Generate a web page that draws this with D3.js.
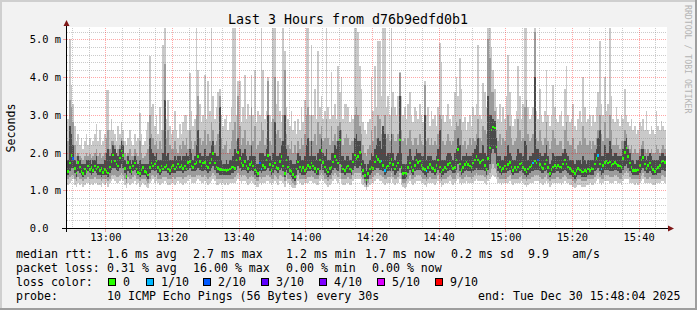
<!DOCTYPE html>
<html>
<head>
<meta charset="utf-8">
<script src="https://cdn.jsdelivr.net/npm/d3@7"></script>
<style>
  body { margin: 0; background: #f2f2f2; }
  svg text { font-family: "DejaVu Sans Mono", monospace; white-space: pre; }
</style>
</head>
<body>
<div id="chart"></div>
<script>
// 10 pings every 30 s, 360 steps: smoke bands (ms) + median + loss
const startTime = new Date(2025, 11, 30, 12, 48, 0);
const stepSeconds = 30;

const pingMax = [
  2.4,2.9,5.0,3.8,3.3,2.7,2.3,2.5,2.2,2.4,2.1,2.3,2.5,2.2,2.4,2.2,2.3,2.5,2.75,2.3,
  2.6,2.2,2.3,2.5,3.65,3.65,2.6,2.9,2.6,2.5,2.3,2.7,2.5,2.8,2.6,2.3,2.2,2.4,2.6,2.3,
  2.2,2.5,2.3,2.4,3.05,2.5,2.2,2.3,2.6,2.8,4.55,3.2,3.3,2.7,3.0,2.5,3.2,2.6,4.85,5.5,
  2.9,3.4,2.7,2.5,2.6,3.1,2.6,2.4,2.75,2.5,2.8,3.0,3.0,2.6,4.1,3.1,2.7,2.9,5.5,4.2,
  3.3,2.8,3.0,4.05,2.9,3.9,3.1,5.5,3.5,2.9,3.2,3.6,3.7,3.0,2.7,2.9,3.0,2.6,2.8,3.2,
  5.5,5.5,3.0,3.9,3.9,2.8,3.2,4.05,2.9,3.3,3.0,4.05,3.0,4.2,2.8,3.1,3.0,5.5,4.2,2.9,
  3.1,4.0,3.0,2.8,5.5,5.5,3.3,3.9,3.1,2.8,5.5,4.7,3.2,2.9,2.7,3.1,2.6,2.85,2.5,2.9,
  2.6,3.2,2.8,3.4,5.5,5.5,3.0,4.85,3.0,3.7,2.9,4.7,3.2,3.5,2.9,3.1,5.5,3.2,2.9,4.15,
  3.0,3.3,2.9,4.3,3.6,4.0,2.9,3.3,3.3,3.2,2.8,3.0,2.9,5.5,5.5,5.2,4.3,3.7,2.8,2.6,
  2.5,2.8,2.9,4.0,3.1,4.3,3.2,4.95,4.95,3.5,5.5,5.5,3.2,3.5,3.0,5.5,3.6,3.2,3.0,3.5,
  4.15,3.5,3.0,3.2,2.9,3.3,3.6,3.0,2.8,3.2,3.1,2.9,3.3,3.0,2.8,3.9,3.0,3.2,2.7,3.1,
  2.9,3.0,2.7,3.2,4.9,4.4,3.0,2.8,3.0,3.3,2.9,2.7,3.0,3.6,4.0,3.5,4.5,3.7,2.8,2.95,
  2.6,2.8,3.0,2.7,3.2,3.0,3.3,4.85,3.0,2.9,3.85,3.6,3.2,5.5,5.5,4.8,4.2,3.7,3.2,2.9,
  3.3,2.8,3.2,2.9,3.5,4.6,3.6,3.0,2.7,2.9,3.1,4.3,3.5,2.9,3.3,5.5,5.5,3.2,2.9,3.0,
  3.2,5.3,3.1,2.9,3.7,3.0,2.8,3.1,4.2,3.0,2.7,3.0,3.8,3.2,2.9,2.8,3.0,3.1,2.7,3.7,
  4.3,3.0,2.8,2.9,3.3,2.7,2.6,2.9,3.1,2.8,4.0,3.2,2.8,2.9,3.0,2.7,3.0,2.8,3.2,3.6,
  4.95,3.3,3.0,4.0,3.1,3.3,5.5,3.5,2.9,2.8,3.2,2.9,2.7,3.0,2.9,3.7,3.0,2.8,2.7,2.9,
  2.6,2.7,2.5,2.6,2.8,2.7,2.9,2.6,3.1,2.6,2.5,2.7,2.6,2.5,3.1,2.7,2.6,2.85,2.7,2.6
];

const pingHigh = [
  2.0,2.3,3.4,3.2,2.8,2.2,1.9,2.0,1.9,1.85,1.8,1.9,2.0,1.9,1.95,1.85,1.9,2.0,2.1,1.9,
  2.0,1.85,1.9,2.0,2.4,2.6,2.1,2.3,2.3,2.2,2.0,2.1,2.2,2.4,2.3,2.0,1.9,2.0,2.1,1.9,
  1.9,2.1,2.0,1.9,2.3,2.0,1.85,1.9,2.0,2.1,3.0,2.5,2.4,2.2,2.3,2.1,2.3,2.1,2.6,4.35,
  2.4,2.6,2.2,2.1,2.1,2.3,2.1,2.0,2.2,2.1,2.3,2.2,2.4,2.1,2.6,2.3,2.1,2.3,3.0,3.5,
  2.4,2.2,2.3,2.6,2.2,2.5,2.3,2.8,2.6,2.2,2.3,2.5,3.5,2.4,2.1,2.2,2.3,2.0,2.1,2.3,
  2.6,2.8,2.3,3.5,2.7,2.2,2.4,2.6,2.2,2.3,2.2,3.2,2.3,2.7,2.1,2.2,2.3,2.8,2.6,2.2,
  2.4,3.9,2.3,2.2,2.9,4.0,2.5,2.6,2.4,2.3,3.0,4.2,2.5,2.2,2.1,2.3,2.0,2.2,2.0,2.3,
  2.1,2.4,2.2,2.5,3.0,3.2,2.3,3.0,2.3,2.5,2.2,2.8,2.5,2.7,2.3,2.4,2.9,2.4,2.2,2.7,
  2.3,2.5,2.3,2.7,2.8,2.6,2.2,2.4,2.5,2.4,2.2,2.3,2.3,3.0,3.2,3.0,2.7,2.5,2.2,2.0,
  1.9,2.1,2.2,2.6,2.3,2.7,2.4,3.0,2.9,2.5,2.7,3.0,2.4,2.5,2.3,3.2,2.5,2.3,2.3,2.5,
  4.1,2.6,2.3,2.4,2.2,2.4,2.6,2.3,2.2,2.4,2.4,2.2,2.5,2.3,2.2,3.8,2.3,2.4,2.2,2.4,
  2.2,2.3,2.2,2.5,3.0,2.9,2.3,2.2,2.3,2.5,2.3,2.2,2.3,2.6,2.8,2.7,2.9,2.6,2.2,2.3,
  2.1,2.2,2.4,2.2,2.4,2.3,2.5,2.9,2.4,2.3,2.7,2.6,2.5,5.0,4.5,3.6,3.6,3.1,2.6,2.3,
  2.5,2.2,2.4,2.3,2.6,3.0,2.7,2.4,2.2,2.3,2.4,2.9,2.6,2.3,2.4,3.2,3.4,2.5,2.3,2.4,
  2.5,5.2,2.4,2.3,2.6,2.3,2.2,2.4,2.8,2.3,2.1,2.3,2.6,2.4,2.2,2.2,2.3,2.3,2.1,2.6,
  2.8,2.3,2.2,2.2,2.4,2.1,2.0,2.2,2.3,2.2,2.7,2.4,2.2,2.2,2.3,2.1,2.3,2.2,2.4,2.6,
  3.0,2.5,2.3,2.8,2.4,2.4,3.0,2.6,2.2,2.2,2.4,2.2,2.1,2.3,2.3,2.6,2.5,2.2,2.1,2.2,
  2.0,2.1,2.0,2.0,2.1,2.2,2.3,2.1,2.0,2.1,2.0,2.1,2.0,2.0,2.2,2.1,2.0,2.1,2.2,2.1
];

const coreHigh = [
  1.8,1.8,2.7,2.5,2.2,1.8,1.7,1.9,1.8,1.7,1.7,1.7,1.8,1.8,1.8,1.7,1.8,1.8,1.9,1.7,
  1.7,1.7,1.7,1.8,2.0,2.1,1.9,2.0,2.2,2.1,2.0,1.9,2.1,2.3,2.2,1.8,1.7,1.9,1.8,1.7,
  1.8,1.9,1.8,1.7,1.8,1.7,1.7,1.7,1.7,1.7,2.4,2.1,2.0,1.9,2.0,1.8,1.8,1.8,2.0,3.4,
  1.9,2.0,1.8,1.8,1.8,1.9,1.8,1.9,1.9,1.8,1.9,1.9,2.0,1.9,2.1,2.0,1.8,1.9,2.2,2.6,
  2.0,1.9,1.9,2.1,1.9,1.9,2.0,2.2,2.3,2.0,1.9,1.9,3.2,1.8,1.7,1.7,1.8,1.7,1.8,1.8,
  1.9,2.1,2.0,2.4,2.1,1.9,2.0,2.1,1.9,1.8,1.9,2.2,1.9,1.9,1.7,1.7,2.0,2.0,2.0,1.9,
  2.1,3.0,1.9,1.8,2.0,2.8,1.9,1.9,2.0,2.2,2.3,3.0,2.1,1.9,1.8,1.8,1.7,1.7,1.8,2.0,
  1.9,1.8,1.8,1.9,2.2,2.4,1.9,2.3,1.9,1.9,1.8,2.0,2.1,2.4,2.0,1.9,2.1,1.8,1.8,2.0,
  2.0,2.2,2.1,2.3,2.6,1.9,1.9,1.8,1.9,1.9,1.8,1.8,2.0,2.4,2.5,2.3,2.3,2.0,1.8,1.7,
  1.5,1.7,1.8,2.0,1.9,2.1,2.2,2.4,2.3,2.1,2.7,2.5,1.9,2.0,2.0,2.5,2.0,1.8,1.9,2.0,
  3.5,2.0,1.7,1.7,1.7,1.9,2.1,1.9,1.8,1.9,2.1,2.0,2.0,1.9,1.9,3.0,1.8,1.9,1.9,1.9,
  1.8,1.8,1.9,2.1,2.6,1.8,1.8,1.8,1.9,2.0,2.0,1.9,1.8,2.0,2.1,2.4,2.2,1.8,1.9,1.9,
  2.0,1.9,1.9,1.9,2.0,2.1,2.2,2.4,2.0,2.0,2.2,2.0,1.9,3.5,3.0,3.0,2.9,2.85,2.4,1.9,
  1.9,1.8,1.8,1.9,1.9,2.2,2.0,1.9,1.8,1.8,1.9,2.1,2.0,2.0,1.9,2.3,2.2,1.8,1.9,1.9,
  2.0,4.0,2.1,2.1,2.0,1.9,1.9,2.0,2.2,1.9,1.7,1.8,2.0,1.9,1.9,1.9,1.9,1.9,2.0,2.1,
  2.0,1.9,1.8,1.8,1.8,1.7,1.8,1.8,1.8,1.7,1.9,1.8,1.7,1.8,1.8,1.8,1.8,2.0,2.1,2.4,
  2.6,1.9,1.9,2.2,2.0,2.0,2.3,2.1,1.9,2.0,2.0,1.9,1.9,1.9,2.1,2.3,2.4,2.1,2.0,1.8,
  1.8,1.7,1.8,1.8,1.9,2.1,2.1,1.9,1.8,1.9,2.0,1.9,1.8,1.8,1.8,1.8,1.9,2.0,2.0,1.9
];

const median = [
  1.6,1.5,1.72,1.92,1.84,1.58,1.46,1.74,1.62,1.5,1.44,1.56,1.5,1.64,1.55,1.6,1.52,1.64,1.56,1.62,
  1.52,1.58,1.48,1.55,1.5,1.46,1.62,1.76,1.94,1.78,1.7,1.64,1.86,2.04,1.92,1.58,1.36,1.74,1.6,1.5,
  1.64,1.72,1.56,1.48,1.44,1.54,1.6,1.5,1.47,1.41,1.6,1.72,1.64,1.7,1.78,1.6,1.53,1.64,1.56,1.62,
  1.66,1.56,1.52,1.6,1.66,1.56,1.62,1.7,1.62,1.66,1.58,1.64,1.56,1.74,1.76,1.64,1.6,1.7,1.74,1.9,
  1.76,1.64,1.72,1.74,1.64,1.6,1.72,1.82,1.97,1.72,1.62,1.58,1.55,1.55,1.54,1.54,1.53,1.54,1.56,1.6,
  1.62,1.58,1.8,2.01,1.84,1.72,1.66,1.76,1.64,1.58,1.68,1.73,1.64,1.54,1.5,1.45,1.72,1.57,1.66,1.6,
  1.8,1.93,1.68,1.53,1.64,1.72,1.6,1.58,1.76,1.9,1.64,1.45,1.8,1.62,1.52,1.5,1.42,1.35,1.56,1.75,
  1.62,1.53,1.6,1.52,1.58,1.66,1.6,1.72,1.64,1.58,1.5,1.56,1.8,2.06,1.74,1.62,1.54,1.49,1.58,1.62,
  1.75,1.9,1.8,1.72,2.33,1.64,1.56,1.52,1.6,1.64,1.56,1.53,1.75,1.94,1.84,1.9,2.0,1.7,1.53,1.4,
  1.27,1.45,1.56,1.62,1.58,1.75,1.9,1.82,1.76,1.78,1.65,1.53,1.6,1.64,1.72,1.82,1.68,1.56,1.64,1.72,
  2.33,1.6,1.45,1.46,1.45,1.6,1.72,1.62,1.53,1.66,1.8,1.74,1.78,1.66,1.58,1.55,1.51,1.6,1.68,1.6,
  1.58,1.53,1.65,1.8,1.62,1.49,1.54,1.6,1.56,1.68,1.72,1.64,1.58,1.6,1.8,2.09,1.7,1.53,1.6,1.68,
  1.75,1.68,1.64,1.6,1.72,1.8,1.9,1.8,1.74,1.78,1.8,1.65,1.55,1.85,2.12,2.6,2.68,2.65,2.15,1.68,
  1.62,1.53,1.58,1.64,1.56,1.68,1.74,1.62,1.53,1.6,1.54,1.62,1.7,1.72,1.6,1.55,1.49,1.56,1.62,1.66,
  1.72,1.78,1.72,1.8,1.68,1.62,1.58,1.7,1.8,1.6,1.45,1.55,1.62,1.66,1.6,1.66,1.62,1.6,1.7,1.8,
  1.7,1.62,1.58,1.53,1.5,1.45,1.52,1.58,1.54,1.5,1.49,1.53,1.5,1.56,1.53,1.58,1.56,1.7,1.85,1.93,
  1.7,1.56,1.65,1.73,1.78,1.72,1.75,1.66,1.7,1.74,1.7,1.66,1.64,1.6,1.85,2.0,2.12,1.9,1.72,1.6,
  1.53,1.52,1.53,1.54,1.65,1.8,1.87,1.7,1.58,1.65,1.72,1.62,1.55,1.5,1.56,1.6,1.65,1.75,1.78,1.73
];

const coreLow = [
  1.45,1.4,1.5,1.6,1.6,1.45,1.35,1.5,1.45,1.4,1.35,1.4,1.45,1.5,1.45,1.4,1.45,1.5,1.45,1.4,
  1.4,1.35,1.4,1.4,1.4,1.35,1.45,1.55,1.6,1.6,1.55,1.5,1.6,1.7,1.6,1.45,1.3,1.5,1.45,1.4,
  1.5,1.55,1.45,1.4,1.35,1.4,1.4,1.4,1.35,1.3,1.45,1.55,1.55,1.5,1.55,1.45,1.4,1.45,1.5,1.5,
  1.5,1.45,1.4,1.45,1.45,1.45,1.5,1.5,1.5,1.5,1.45,1.5,1.5,1.55,1.6,1.5,1.5,1.5,1.55,1.6,
  1.55,1.5,1.5,1.55,1.5,1.45,1.5,1.6,1.65,1.55,1.45,1.45,1.4,1.4,1.4,1.4,1.4,1.4,1.4,1.45,
  1.45,1.5,1.55,1.65,1.6,1.5,1.55,1.55,1.5,1.45,1.5,1.55,1.5,1.4,1.35,1.35,1.5,1.45,1.5,1.5,
  1.55,1.6,1.5,1.4,1.45,1.55,1.5,1.45,1.55,1.6,1.5,1.35,1.55,1.45,1.4,1.35,1.3,1.25,1.4,1.55,
  1.45,1.4,1.4,1.4,1.45,1.5,1.5,1.55,1.5,1.45,1.4,1.4,1.55,1.7,1.55,1.45,1.4,1.35,1.4,1.45,
  1.55,1.6,1.55,1.5,1.7,1.45,1.45,1.4,1.45,1.45,1.45,1.4,1.55,1.65,1.6,1.6,1.65,1.5,1.4,1.3,
  1.15,1.3,1.4,1.45,1.5,1.55,1.6,1.6,1.55,1.55,1.5,1.4,1.45,1.5,1.5,1.6,1.5,1.4,1.45,1.5,
  1.6,1.45,1.3,1.3,1.35,1.45,1.55,1.45,1.4,1.5,1.55,1.55,1.55,1.5,1.45,1.4,1.35,1.45,1.5,1.45,
  1.45,1.4,1.45,1.55,1.45,1.35,1.4,1.45,1.45,1.5,1.55,1.5,1.45,1.45,1.55,1.7,1.5,1.4,1.45,1.5,
  1.55,1.5,1.5,1.45,1.5,1.55,1.6,1.55,1.55,1.55,1.55,1.5,1.4,1.55,1.7,2.0,2.1,2.0,1.7,1.5,
  1.45,1.4,1.45,1.45,1.45,1.5,1.55,1.45,1.4,1.45,1.45,1.45,1.5,1.55,1.45,1.4,1.35,1.4,1.45,1.5,
  1.5,1.55,1.55,1.55,1.5,1.45,1.45,1.5,1.55,1.45,1.35,1.4,1.45,1.45,1.5,1.5,1.45,1.45,1.5,1.55,
  1.5,1.45,1.4,1.4,1.35,1.3,1.35,1.4,1.4,1.35,1.35,1.35,1.35,1.4,1.4,1.4,1.4,1.5,1.55,1.6,
  1.5,1.4,1.45,1.55,1.55,1.55,1.5,1.5,1.5,1.55,1.55,1.5,1.45,1.45,1.55,1.65,1.7,1.6,1.5,1.45,
  1.4,1.4,1.4,1.4,1.45,1.55,1.6,1.5,1.45,1.45,1.5,1.45,1.4,1.4,1.4,1.45,1.45,1.55,1.55,1.5
];

const pingLow = [
  1.3,1.3,1.35,1.4,1.4,1.3,1.25,1.35,1.3,1.3,1.25,1.3,1.3,1.35,1.3,1.3,1.3,1.35,1.3,1.3,
  1.3,1.25,1.3,1.3,1.3,1.25,1.3,1.4,1.4,1.4,1.35,1.35,1.4,1.45,1.4,1.3,1.2,1.35,1.3,1.3,
  1.35,1.4,1.3,1.3,1.25,1.3,1.3,1.3,1.25,1.2,1.3,1.4,1.4,1.35,1.4,1.3,1.3,1.3,1.35,1.35,
  1.35,1.3,1.3,1.3,1.35,1.3,1.35,1.35,1.35,1.35,1.3,1.35,1.35,1.4,1.4,1.35,1.35,1.35,1.4,1.4,
  1.4,1.35,1.35,1.4,1.35,1.3,1.35,1.4,1.45,1.4,1.3,1.3,1.3,1.3,1.3,1.3,1.3,1.3,1.3,1.3,
  1.3,1.35,1.4,1.45,1.4,1.35,1.4,1.4,1.35,1.3,1.35,1.4,1.35,1.3,1.25,1.25,1.35,1.3,1.35,1.35,
  1.4,1.4,1.35,1.3,1.3,1.4,1.35,1.3,1.4,1.4,1.35,1.25,1.4,1.3,1.3,1.25,1.2,1.15,1.3,1.4,
  1.3,1.3,1.3,1.3,1.3,1.35,1.35,1.4,1.35,1.3,1.3,1.3,1.4,1.45,1.4,1.3,1.3,1.25,1.3,1.3,
  1.4,1.45,1.4,1.35,1.45,1.3,1.3,1.3,1.3,1.35,1.3,1.3,1.4,1.45,1.45,1.45,1.45,1.35,1.3,1.2,
  1.1,1.2,1.3,1.3,1.35,1.4,1.45,1.45,1.4,1.4,1.35,1.3,1.3,1.35,1.35,1.45,1.35,1.3,1.3,1.35,
  1.45,1.3,1.2,1.2,1.25,1.3,1.4,1.3,1.3,1.35,1.4,1.4,1.4,1.35,1.3,1.3,1.25,1.3,1.35,1.3,
  1.3,1.3,1.3,1.4,1.3,1.25,1.3,1.3,1.3,1.35,1.4,1.35,1.3,1.3,1.4,1.45,1.35,1.3,1.3,1.35,
  1.4,1.35,1.35,1.3,1.35,1.4,1.45,1.4,1.4,1.4,1.4,1.35,1.3,1.4,1.45,1.6,1.7,1.6,1.45,1.35,
  1.3,1.3,1.3,1.3,1.3,1.35,1.4,1.3,1.3,1.3,1.3,1.3,1.35,1.4,1.3,1.3,1.25,1.3,1.3,1.35,
  1.35,1.4,1.4,1.4,1.35,1.3,1.3,1.35,1.4,1.3,1.25,1.3,1.3,1.3,1.35,1.35,1.3,1.3,1.35,1.4,
  1.35,1.3,1.3,1.3,1.25,1.2,1.25,1.3,1.3,1.25,1.25,1.25,1.25,1.3,1.3,1.3,1.3,1.35,1.4,1.45,
  1.35,1.3,1.3,1.4,1.4,1.4,1.35,1.35,1.35,1.4,1.4,1.35,1.3,1.3,1.4,1.45,1.5,1.45,1.35,1.3,
  1.3,1.3,1.3,1.3,1.3,1.4,1.45,1.35,1.3,1.3,1.35,1.3,1.3,1.3,1.3,1.3,1.3,1.4,1.4,1.35
];

const pingMin = [
  1.2,1.15,1.2,1.25,1.3,1.15,1.1,1.2,1.15,1.2,1.1,1.15,1.2,1.2,1.15,1.2,1.15,1.2,1.2,1.15,
  1.15,1.1,1.2,1.15,1.2,1.1,1.2,1.25,1.3,1.25,1.2,1.2,1.25,1.3,1.25,1.15,1.05,1.2,1.15,1.2,
  1.2,1.25,1.15,1.2,1.1,1.15,1.2,1.15,1.1,1.05,1.2,1.25,1.3,1.2,1.25,1.2,1.15,1.2,1.2,1.25,
  1.2,1.15,1.15,1.2,1.2,1.15,1.2,1.25,1.2,1.2,1.15,1.2,1.2,1.25,1.3,1.2,1.2,1.2,1.25,1.3,
  1.25,1.2,1.2,1.25,1.2,1.15,1.2,1.25,1.3,1.25,1.15,1.15,1.2,1.15,1.2,1.15,1.2,1.15,1.2,1.2,
  1.2,1.2,1.25,1.3,1.25,1.2,1.25,1.25,1.2,1.15,1.2,1.25,1.2,1.15,1.1,1.1,1.2,1.15,1.2,1.2,
  1.25,1.25,1.2,1.15,1.2,1.25,1.2,1.15,1.25,1.25,1.2,1.1,1.25,1.2,1.15,1.1,1.05,1.05,1.15,1.25,
  1.2,1.15,1.15,1.2,1.2,1.2,1.25,1.25,1.2,1.2,1.15,1.15,1.25,1.3,1.25,1.2,1.15,1.1,1.15,1.2,
  1.25,1.3,1.25,1.2,1.3,1.2,1.15,1.15,1.2,1.2,1.15,1.15,1.25,1.3,1.3,1.3,1.3,1.2,1.15,1.1,
  1.0,1.1,1.15,1.2,1.2,1.25,1.3,1.3,1.25,1.25,1.2,1.15,1.2,1.2,1.2,1.3,1.2,1.15,1.2,1.2,
  1.3,1.15,1.1,1.05,1.1,1.2,1.25,1.2,1.15,1.2,1.25,1.25,1.25,1.2,1.2,1.15,1.1,1.2,1.2,1.2,
  1.2,1.15,1.2,1.25,1.2,1.1,1.15,1.2,1.2,1.2,1.25,1.2,1.15,1.2,1.25,1.3,1.2,1.15,1.2,1.2,
  1.25,1.2,1.2,1.2,1.2,1.25,1.3,1.25,1.25,1.25,1.25,1.2,1.15,1.25,1.3,1.35,1.4,1.35,1.3,1.2,
  1.2,1.15,1.2,1.2,1.2,1.2,1.25,1.2,1.15,1.2,1.2,1.2,1.2,1.25,1.2,1.15,1.1,1.15,1.2,1.2,
  1.2,1.25,1.25,1.25,1.2,1.2,1.15,1.2,1.25,1.2,1.1,1.15,1.2,1.2,1.2,1.2,1.2,1.15,1.2,1.25,
  1.2,1.2,1.15,1.15,1.1,1.05,1.1,1.15,1.15,1.1,1.1,1.1,1.15,1.15,1.2,1.15,1.15,1.2,1.25,1.3,
  1.2,1.15,1.2,1.25,1.25,1.25,1.2,1.2,1.2,1.25,1.25,1.2,1.2,1.15,1.25,1.3,1.3,1.3,1.2,1.2,
  1.2,1.15,1.2,1.15,1.2,1.25,1.3,1.2,1.2,1.2,1.2,1.2,1.15,1.15,1.2,1.2,1.2,1.25,1.25,1.2
];

// [step index, lost pings out of 10]
const lossEvents = [[4,2],[116,2],[117,1],[189,1],[191,1],[216,1],[280,1],[283,2],[319,1],[321,1]];

const lossLevels = ["0", "1/10", "2/10", "3/10", "4/10", "5/10", "9/10"];
const lossColors = ["#26ff00", "#00b8ff", "#0059ff", "#5e00ff", "#7e00ff", "#dd00ff", "#ff0000"];

const yTicks = [0, 1, 2, 3, 4, 5];

const statsLines = [
  [[16, "median rtt:"], [107, "1.6 ms avg"], [193, "2.7 ms max"], [286, "1.2 ms min"],
   [365, "1.7 ms now"], [451, "0.2 ms sd"], [528, "9.9"], [572, "am/s"]],
  [[16, "packet loss:"], [107, "0.31 % avg"], [193, "16.00 % max"], [286, "0.00 % min"],
   [372, "0.00 % now"]],
  [[16, "loss color:"]],
  [[16, "probe:"], [107, "10 ICMP Echo Pings (56 Bytes) every 30s"],
   [478, "end: Tue Dec 30 15:48:04 2025"]]
];
const lossSwatchX = [108, 146, 203, 261, 319, 377, 435];

// ---------------------------------------------------------------
const width = 697, height = 310;
const plot = { left: 66, right: 666, top: 28, bottom: 228 };

const svg = d3.select("#chart").append("svg")
  .attr("width", width)
  .attr("height", height);

// background + 3d frame
svg.append("rect").attr("width", width).attr("height", height).attr("fill", "#f2f2f2");
svg.append("rect").attr("x", 0).attr("y", 0).attr("width", width).attr("height", 2).attr("fill", "#cfcfcf");
svg.append("rect").attr("x", 0).attr("y", 0).attr("width", 2).attr("height", height).attr("fill", "#cfcfcf");
svg.append("rect").attr("x", 0).attr("y", height - 2).attr("width", width).attr("height", 2).attr("fill", "#9e9e9e");
svg.append("rect").attr("x", width - 2).attr("y", 0).attr("width", 2).attr("height", height).attr("fill", "#9e9e9e");

// canvas
svg.append("rect")
  .attr("x", plot.left).attr("y", plot.top - 1)
  .attr("width", plot.right - plot.left + 1).attr("height", plot.bottom - plot.top + 1)
  .attr("fill", "#ffffff");

const endTime = new Date(2025, 11, 30, 15, 48, 4);
const x = d3.scaleTime()
  .domain([d3.timeSecond.offset(endTime, -3 * 3600), endTime])
  .range([plot.left, plot.right]);
const y = d3.scaleLinear()
  .domain([0, 5.305])
  .range([plot.bottom, plot.top]);

const stepTime = i => d3.timeSecond.offset(startTime, i * stepSeconds);

svg.append("clipPath").attr("id", "clip")
  .append("rect")
  .attr("x", plot.left + 1).attr("y", plot.top)
  .attr("width", plot.right - plot.left).attr("height", plot.bottom - plot.top);

const smoke = svg.append("g").attr("clip-path", "url(#clip)");

function band(lo, hi) {
  const pts = lo.map((v, i) => ({ t: stepTime(i), lo: v, hi: hi[i] }));
  const last = pts[pts.length - 1];
  pts.push({ t: stepTime(lo.length), lo: last.lo, hi: last.hi });
  return pts;
}

const area = d3.area()
  .x(d => x(d.t))
  .y0(d => y(d.lo))
  .y1(d => y(d.hi))
  .curve(d3.curveStepAfter);

const bands = [
  { lo: pingMin, hi: pingMax, color: "#c9c9c9" },
  { lo: pingLow, hi: pingHigh, color: "#9b9b9b" },
  { lo: coreLow, hi: coreHigh, color: "#4a4a4a" }
];

smoke.selectAll("path.band")
  .data(bands)
  .join("path")
  .attr("class", "band")
  .attr("d", b => area(band(b.lo, b.hi)))
  .attr("fill", b => b.color)
  .attr("shape-rendering", "crispEdges");

const lossByStep = new Map(lossEvents);
smoke.selectAll("rect.median")
  .data(median)
  .join("rect")
  .attr("class", "median")
  .attr("x", (d, i) => x(stepTime(i)))
  .attr("width", (d, i) => x(stepTime(i + 1)) - x(stepTime(i)))
  .attr("y", d => y(d) - 1.3)
  .attr("height", 2.6)
  .attr("fill", (d, i) => lossColors[lossByStep.get(i) || 0])
  .attr("shape-rendering", "crispEdges");

// grid
const grid = svg.append("g");
const minorColor = "rgba(140,140,140,0.45)";
const majorColor = "rgba(255,0,0,0.35)";

const yMinor = d3.range(1, 27).map(k => k / 5).filter(v => Math.abs(v - Math.round(v)) > 1e-6);
grid.selectAll("line.ymin")
  .data(yMinor)
  .join("line")
  .attr("x1", plot.left + 1).attr("x2", plot.right)
  .attr("y1", d => Math.round(y(d)) + 0.5).attr("y2", d => Math.round(y(d)) + 0.5)
  .attr("stroke", minorColor).attr("stroke-dasharray", "1,1");

const xMinor = x.ticks(d3.timeMinute.every(5));
grid.selectAll("line.xmin")
  .data(xMinor.filter(d => d.getMinutes() % 20 !== 0))
  .join("line")
  .attr("x1", d => Math.floor(x(d)) + 0.5).attr("x2", d => Math.floor(x(d)) + 0.5)
  .attr("y1", plot.top).attr("y2", plot.bottom)
  .attr("stroke", minorColor).attr("stroke-dasharray", "1,1");

grid.selectAll("line.ymaj")
  .data(yTicks.filter(v => v > 0))
  .join("line")
  .attr("x1", plot.left + 1).attr("x2", plot.right)
  .attr("y1", d => Math.round(y(d)) + 0.5).attr("y2", d => Math.round(y(d)) + 0.5)
  .attr("stroke", majorColor).attr("stroke-dasharray", "1,1");

const xMajor = xMinor.filter(d => d.getMinutes() % 20 === 0);
grid.selectAll("line.xmaj")
  .data(xMajor)
  .join("line")
  .attr("x1", d => Math.floor(x(d)) + 0.5).attr("x2", d => Math.floor(x(d)) + 0.5)
  .attr("y1", plot.top).attr("y2", plot.bottom)
  .attr("stroke", majorColor).attr("stroke-dasharray", "1,1");

// ticks outside the canvas
grid.selectAll("line.ytick")
  .data(yTicks.filter(v => v > 0))
  .join("line")
  .attr("x1", plot.left - 3).attr("x2", plot.left)
  .attr("y1", d => Math.round(y(d)) + 0.5).attr("y2", d => Math.round(y(d)) + 0.5)
  .attr("stroke", majorColor);
grid.selectAll("line.xtick")
  .data(xMajor)
  .join("line")
  .attr("x1", d => Math.floor(x(d)) + 0.5).attr("x2", d => Math.floor(x(d)) + 0.5)
  .attr("y1", plot.bottom + 1).attr("y2", plot.bottom + 4)
  .attr("stroke", majorColor);

// axes lines + arrows
const arrowColor = "#7f1818";
svg.append("line")
  .attr("x1", plot.left - 4).attr("x2", plot.right + 4)
  .attr("y1", plot.bottom + 0.5).attr("y2", plot.bottom + 0.5)
  .attr("stroke", "#000");
svg.append("line")
  .attr("x1", plot.left + 0.5).attr("x2", plot.left + 0.5)
  .attr("y1", plot.bottom + 4).attr("y2", plot.top - 5)
  .attr("stroke", "#000");
svg.append("path")
  .attr("d", `M${plot.right + 2},${plot.bottom - 2.5}L${plot.right + 8},${plot.bottom + 0.5}L${plot.right + 2},${plot.bottom + 3.5}Z`)
  .attr("fill", arrowColor);
svg.append("path")
  .attr("d", `M${plot.left - 2.5},${plot.top - 2}L${plot.left + 0.5},${plot.top - 8}L${plot.left + 3.5},${plot.top - 2}Z`)
  .attr("fill", arrowColor);

// axis labels
svg.append("g").selectAll("text")
  .data(xMajor)
  .join("text")
  .attr("x", d => x(d))
  .attr("y", 241)
  .attr("text-anchor", "middle")
  .attr("font-size", "10.4px")
  .text(d3.timeFormat("%H:%M"));

svg.append("g").selectAll("text")
  .data(yTicks)
  .join("text")
  .attr("x", 61)
  .attr("y", d => Math.round(y(d)) + 4)
  .attr("text-anchor", "end")
  .attr("font-size", "10.4px")
  .text(d => d === 0 ? "0.0  " : d.toFixed(1) + " m");

svg.append("text")
  .attr("transform", `translate(15,${(plot.top + plot.bottom) / 2}) rotate(-90)`)
  .attr("text-anchor", "middle")
  .attr("font-size", "11.6px")
  .text("Seconds");

svg.append("text")
  .attr("x", 348)
  .attr("y", 24)
  .attr("text-anchor", "middle")
  .attr("font-size", "13.3px")
  .text("Last 3 Hours from d76b9edfd0b1");

svg.append("text")
  .attr("transform", "translate(685,5) rotate(90)")
  .attr("font-size", "8.2px")
  .attr("fill", "#b4b4b4")
  .text("RRDTOOL / TOBI OETIKER");

// legend
const legend = svg.append("g").attr("font-size", "11.6px");
statsLines.forEach((items, li) => {
  legend.selectAll(null)
    .data(items)
    .join("text")
    .attr("x", d => d[0])
    .attr("y", 258 + li * 14)
    .text(d => d[1]);
});

const swatches = legend.selectAll("g.sw")
  .data(lossLevels)
  .join("g")
  .attr("class", "sw");
swatches.append("rect")
  .attr("x", (d, i) => lossSwatchX[i] + 0.5)
  .attr("y", 278.5)
  .attr("width", 7).attr("height", 7)
  .attr("fill", (d, i) => lossColors[i])
  .attr("stroke", "#000");
swatches.append("text")
  .attr("x", (d, i) => lossSwatchX[i] + 15)
  .attr("y", 286)
  .text(d => d);
</script>
</body>
</html>
